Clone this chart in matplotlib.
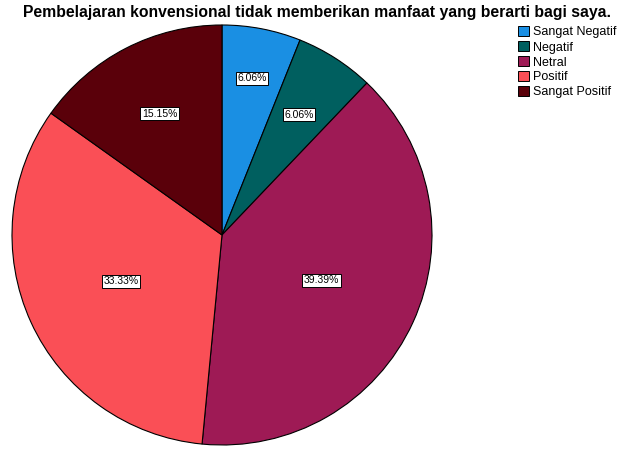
import matplotlib
matplotlib.use("Agg")
import matplotlib.pyplot as plt
import numpy as np

plt.rcParams["font.family"] = ["Liberation Sans", "DejaVu Sans"]

categories = ["Sangat Negatif", "Negatif", "Netral", "Positif", "Sangat Positif"]
values = [6.06, 6.06, 39.39, 33.33, 15.15]
labels = ["6.06%", "6.06%", "39.39%", "33.33%", "15.15%"]
colors = ["#1a8fe3", "#005f5f", "#9e1a55", "#fa4f56", "#5a000a"]
label_r = [0.76, 0.68, 0.52, 0.53, 0.65]

fig = plt.figure(figsize=(6.22, 4.5), dpi=100)
ax = fig.add_axes([222/622 - 210/622, (450-445)/450, 420/622, 420/450])
wedges, _ = ax.pie(values, colors=colors, startangle=90, counterclock=False,
                   wedgeprops=dict(edgecolor="black", linewidth=0.8))
ax.set_aspect("equal")
ax.set_xlim(-1, 1)
ax.set_ylim(-1, 1)

for w, lab, r in zip(wedges, labels, label_r):
    ang = np.deg2rad((w.theta1 + w.theta2) / 2)
    ax.text(r*np.cos(ang), r*np.sin(ang), lab, ha="center", va="center", fontsize=7.5,
            bbox=dict(boxstyle="square,pad=0.15", facecolor="white", edgecolor="black", linewidth=0.7))

fig.text(317/622, 1 - 12/450, "Pembelajaran konvensional tidak memberikan manfaat yang berarti bagi saya.",
         ha="center", va="center", fontsize=11.3, fontweight="bold")

handles = [plt.Rectangle((0, 0), 1, 1, facecolor=c, edgecolor="black", linewidth=0.7) for c in colors]
fig.legend(handles, categories, loc="upper left", bbox_to_anchor=(518/622, 1 - 26/450),
           frameon=False, fontsize=9, handlelength=0.9, handleheight=0.9, handletextpad=0.3,
           labelspacing=0.2, borderpad=0, borderaxespad=0)

fig.savefig("out.png", dpi=100)
